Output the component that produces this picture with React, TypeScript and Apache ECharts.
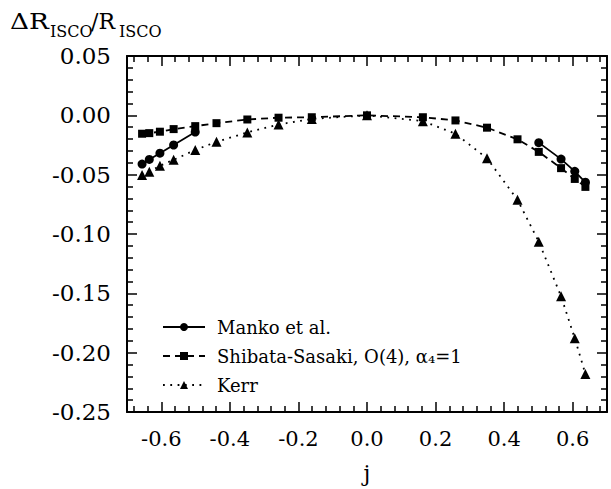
import React, { useEffect, useRef } from "react";
import * as echarts from "echarts";

// j values and ΔR_ISCO/R_ISCO
const jMankoLeft = [-0.656, -0.635, -0.604, -0.564, -0.501];
const mankoLeft = [-0.0411, -0.0372, -0.0319, -0.025, -0.0141];
const jMankoRight = [0.501, 0.566, 0.606, 0.637];
const mankoRight = [-0.023, -0.0369, -0.0472, -0.0564];

const jShibata = [-0.656, -0.635, -0.604, -0.564, -0.501, -0.439, -0.349, -0.258, -0.161, 0, 0.163, 0.258, 0.35, 0.439, 0.501, 0.566, 0.606, 0.637];
const shibata = [-0.0155, -0.015, -0.0138, -0.0116, -0.0091, -0.0066, -0.0035, -0.002, -0.0016, 0, -0.0016, -0.0043, -0.0104, -0.0202, -0.0308, -0.0445, -0.0536, -0.0603];

const jKerr = [-0.656, -0.635, -0.604, -0.564, -0.501, -0.439, -0.349, -0.258, -0.161, 0, 0.163, 0.258, 0.35, 0.439, 0.501, 0.566, 0.606, 0.637];
const kerr = [-0.0503, -0.0475, -0.0425, -0.0375, -0.0292, -0.0223, -0.0144, -0.0077, -0.003, 0, -0.0049, -0.0155, -0.0362, -0.0712, -0.1065, -0.1525, -0.1879, -0.218];

const xMajorTicks = [-0.6, -0.4, -0.2, 0, 0.2, 0.4, 0.6];
const xMinorTicks = [-0.68, -0.64, -0.56, -0.52, -0.48, -0.44, -0.36, -0.32, -0.28, -0.24, -0.16, -0.12, -0.08, -0.04, 0.04, 0.08, 0.12, 0.16, 0.24, 0.28, 0.32, 0.36, 0.44, 0.48, 0.52, 0.56, 0.64, 0.68];

const seriesNames = ["Manko et al.", "Shibata-Sasaki, O(4), α₄=1", "Kerr"];

const FONT = '"DejaVu Serif", serif';
const BLACK = "#000";

const zip = (xs: number[], ys: number[]) => xs.map((x, i) => [x, ys[i]]);

export default function App() {
  const ref = useRef<HTMLDivElement>(null);
  useEffect(() => {
    const chart = echarts.init(ref.current!, null, { renderer: "svg" });
    const xBase = {
      type: "value" as const,
      min: -0.7,
      max: 0.7,
      splitLine: { show: false },
    };
    const tStyle = (size: number, x: number, y: number, text: string, scaleX = 1) => ({
      type: "text",
      x,
      y,
      scaleX,
      style: { text, font: `${size}px ${FONT}`, fill: BLACK, textAlign: "left", textVerticalAlign: "middle", align: "left", verticalAlign: "middle" },
    });
    const option: any = {
      animation: false,
      backgroundColor: "#fff",
      textStyle: { fontFamily: FONT },
      grid: { left: 127, right: 4, top: 56, bottom: 74 },
      xAxis: [
        {
          ...xBase,
          position: "bottom",
          axisLine: { show: true, onZero: false, lineStyle: { color: BLACK, width: 2 } },
          axisTick: { show: true, inside: true, length: 10, lineStyle: { color: BLACK, width: 1.5 }, customValues: xMajorTicks },
          axisLabel: {
            show: true,
            customValues: xMajorTicks,
            formatter: (v: number) => (Math.abs(v) < 1e-9 ? "0.0" : v.toFixed(1)),
            color: BLACK,
            fontFamily: FONT,
            fontSize: 21,
            margin: 16,
          },
          name: "j",
          nameLocation: "middle",
          nameGap: 50,
          nameTextStyle: { color: BLACK, fontFamily: FONT, fontSize: 22 },
        },
        {
          ...xBase,
          position: "bottom",
          axisLine: { show: false, onZero: false },
          axisTick: { show: true, inside: true, length: 6, lineStyle: { color: BLACK, width: 1.5 }, customValues: xMinorTicks },
          axisLabel: { show: false },
        },
        {
          ...xBase,
          position: "top",
          axisLine: { show: true, onZero: false, lineStyle: { color: BLACK, width: 2 } },
          axisTick: { show: true, inside: true, length: 10, lineStyle: { color: BLACK, width: 1.5 }, customValues: xMajorTicks },
          axisLabel: { show: false },
        },
        {
          ...xBase,
          position: "top",
          axisLine: { show: false, onZero: false },
          axisTick: { show: true, inside: true, length: 6, lineStyle: { color: BLACK, width: 1.5 }, customValues: xMinorTicks },
          axisLabel: { show: false },
        },
      ],
      yAxis: [
        {
          type: "value",
          position: "left",
          min: -0.25,
          max: 0.05,
          interval: 0.05,
          splitLine: { show: false },
          axisLine: { show: true, onZero: false, lineStyle: { color: BLACK, width: 2 } },
          axisTick: { show: true, inside: true, length: 10, lineStyle: { color: BLACK, width: 1.5 } },
          minorTick: { show: true, splitNumber: 5, length: 6, lineStyle: { color: BLACK, width: 1.5 } },
          axisLabel: {
            color: BLACK,
            fontFamily: FONT,
            fontSize: 23,
            margin: 16,
            formatter: (v: number) => (Math.abs(v) < 1e-9 ? "0.00" : v.toFixed(2)),
          },
        },
        {
          type: "value",
          position: "right",
          min: -0.25,
          max: 0.05,
          interval: 0.05,
          splitLine: { show: false },
          axisLine: { show: true, onZero: false, lineStyle: { color: BLACK, width: 2 } },
          axisTick: { show: true, inside: true, length: 10, lineStyle: { color: BLACK, width: 1.5 } },
          minorTick: { show: true, splitNumber: 5, length: 6, lineStyle: { color: BLACK, width: 1.5 } },
          axisLabel: { show: false },
        },
      ],
      legend: {
        orient: "vertical",
        left: 157,
        top: 313,
        itemWidth: 42,
        itemHeight: 10,
        itemGap: 11,
        data: seriesNames,
        textStyle: { color: BLACK, fontFamily: FONT, fontSize: 18, padding: [0, 0, 0, 7] },
      },
      graphic: [
        tStyle(22, 10, 21, "ΔR", 1.2),
        tStyle(16, 50, 31, "ISCO"),
        tStyle(22, 91, 21, "/R"),
        tStyle(16, 119, 31, "ISCO"),
      ],
      series: [
        {
          name: seriesNames[0],
          type: "line",
          data: zip(jMankoLeft, mankoLeft),
          symbol: "circle",
          symbolSize: 9,
          itemStyle: { color: BLACK },
          lineStyle: { color: BLACK, width: 1.8, type: "solid" },
        },
        {
          name: seriesNames[0],
          type: "line",
          data: zip(jMankoRight, mankoRight),
          symbol: "circle",
          symbolSize: 9,
          itemStyle: { color: BLACK },
          lineStyle: { color: BLACK, width: 1.8, type: "solid" },
        },
        {
          name: seriesNames[1],
          type: "line",
          data: zip(jShibata, shibata),
          symbol: "rect",
          symbolSize: 8,
          itemStyle: { color: BLACK },
          lineStyle: { color: BLACK, width: 1.8, type: [7, 5] },
        },
        {
          name: seriesNames[2],
          type: "line",
          data: zip(jKerr, kerr),
          symbol: "triangle",
          symbolSize: 10,
          itemStyle: { color: BLACK },
          lineStyle: { color: BLACK, width: 1.8, type: [1.8, 5.5] },
        },
      ],
    };
    chart.setOption(option);
    return () => chart.dispose();
  }, []);
  return <div ref={ref} style={{ position: "fixed", left: 0, top: 0, width: 611, height: 489 }} />;
}
